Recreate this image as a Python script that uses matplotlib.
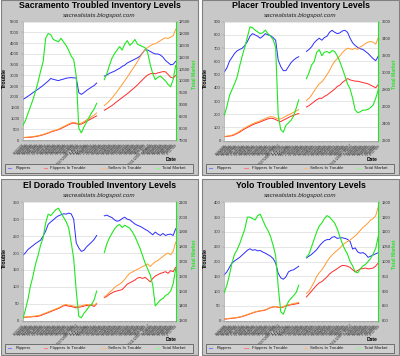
import matplotlib
matplotlib.use("Agg")
import matplotlib.pyplot as plt
import matplotlib.patches as patches
from matplotlib.lines import Line2D
import numpy as np
import pandas as pd

nan = np.nan
gap = [nan, nan]

# week labels on the category axis (61 slots, two empty slots in the middle)
week_labels = list(pd.date_range("2008-06-02", periods=61, freq="7D").strftime("%m/%d/%y"))
week_labels[21] = "10/27/2008 - 11/02"
week_labels[49] = "05/11/2009 - 05/17"

# ---- Sacramento ----
sac_flippers = [1880, 1950, 2030, 2110, 2200, 2280, 2360, 2450, 2540, 2640, 2740, 2860, 2820, 2790, 2760,
                2800, 2830, 2870, 2890, 2900, 2890, 2880, 2200, 2120, 2200, 2300, 2380, 2460, 2530, 2650] + gap + \
               [2970, 3020, 3100, 3150, 3200, 3270, 3330, 3420, 3480, 3580, 3640, 3700, 3760, 3820, 3900,
                4050, 4200, 4180, 4120, 4050, 4000, 4000, 3950, 3850, 3700, 3600, 3500, 3520, 3660]
sac_flip_trouble = [110, 115, 120, 130, 140, 160, 180, 210, 240, 280, 320, 370, 410, 440, 480,
                    530, 590, 650, 710, 760, 790, 760, 720, 740, 800, 870, 930, 990, 1060, 1120] + gap + \
                   [1380, 1450, 1530, 1600, 1700, 1790, 1880, 1970, 2060, 2150, 2250, 2350, 2450, 2560, 2680,
                    2800, 2920, 3020, 3080, 3100, 3080, 3120, 3150, 3180, 3170, 3050, 2920, 2880, 3000]
sac_sell_trouble = [120, 125, 135, 145, 160, 180, 200, 230, 260, 300, 340, 390, 430, 460, 500,
                    560, 620, 680, 740, 790, 820, 790, 760, 790, 850, 930, 1000, 1080, 1160, 1260] + gap + \
                   [1600, 1700, 1820, 1950, 2100, 2250, 2420, 2580, 2750, 2920, 3100, 3280, 3450, 3650, 3850,
                    4050, 4200, 4300, 4380, 4450, 4480, 4550, 4620, 4700, 4750, 4720, 4780, 4850, 5150]
sac_total = [8100, 8300, 8600, 8900, 9200, 9550, 9950, 10400, 10800, 11800, 12000, 11950, 11750, 11700, 11650,
             11800, 11650, 11500, 11300, 11050, 10900, 10200, 8000, 7800, 8050, 8250, 8450, 8650, 8800, 9050] + gap + \
            [10050, 10300, 10650, 10950, 11150, 11300, 11450, 11300, 11550, 11700, 11500, 11600, 11750, 11550, 11500,
             11450, 11400, 11200, 10700, 10300, 10050, 10150, 10200, 10100, 10000, 9850, 9750, 10050, 10650]

# ---- Placer ----
pla_flippers = [520, 550, 600, 630, 660, 680, 690, 700, 720, 750, 790, 810, 800, 790, 775,
                790, 810, 800, 795, 780, 760, 610, 560, 530, 530, 560, 590, 610, 625, 635] + gap + \
               [675, 690, 710, 740, 760, 775, 760, 780, 790, 820, 835, 820, 810, 815, 830,
                835, 820, 775, 740, 720, 705, 695, 690, 675, 660, 640, 620, 605, 640]
pla_flip_trouble = [30, 32, 35, 38, 45, 55, 65, 78, 90, 100, 110, 120, 128, 135, 142,
                    150, 158, 165, 170, 168, 160, 150, 145, 155, 165, 175, 185, 192, 200, 205] + gap + \
                   [255, 265, 280, 295, 310, 320, 320, 335, 345, 360, 375, 390, 410, 420, 440,
                    455, 470, 460, 455, 450, 450, 445, 440, 435, 430, 420, 410, 400, 425]
pla_sell_trouble = [32, 35, 38, 42, 50, 60, 72, 85, 97, 108, 118, 128, 136, 143, 150,
                    160, 168, 176, 182, 180, 172, 165, 165, 175, 185, 195, 205, 215, 225, 235] + gap + \
                   [305, 320, 345, 375, 405, 430, 445, 470, 500, 530, 570, 600, 620, 640, 665,
                    685, 700, 695, 690, 700, 690, 710, 720, 735, 745, 750, 745, 730, 780]
pla_total = [2500, 2600, 2730, 2800, 2870, 2950, 3080, 3200, 3300, 3420, 3540, 3530, 3500, 3480, 3460,
             3470, 3500, 3460, 3430, 3390, 3300, 2500, 2330, 2300, 2380, 2410, 2440, 2490, 2580, 2680] + gap + \
            [2930, 3000, 3090, 3130, 3240, 3270, 3200, 3240, 3250, 3230, 3260, 3250, 3200, 3130, 3050,
             2960, 2870, 2810, 2700, 2560, 2530, 2540, 2560, 2560, 2570, 2590, 2620, 2700, 2800]

# ---- El Dorado ----
eld_flippers = [193, 200, 210, 216, 222, 228, 233, 238, 250, 265, 285, 292, 298, 305, 310,
                313, 316, 315, 318, 316, 300, 230, 215, 205, 208, 218, 225, 232, 240, 252] + gap + \
               [310, 312, 308, 305, 298, 294, 296, 302, 306, 300, 298, 292, 286, 282, 279,
                275, 270, 266, 260, 254, 262, 256, 252, 258, 252, 255, 256, 252, 272]
eld_flip_trouble = [10, 10, 11, 11, 12, 12, 13, 15, 18, 21, 24, 27, 30, 33, 36,
                    40, 44, 45, 43, 42, 40, 38, 40, 41, 43, 45, 44, 46, 42, 50] + gap + \
                   [68, 72, 78, 82, 86, 88, 90, 92, 100, 108, 112, 116, 120, 126, 128,
                    125, 128, 122, 115, 125, 132, 136, 140, 142, 145, 140, 148, 145, 158]
eld_sell_trouble = [11, 11, 12, 12, 13, 14, 15, 17, 20, 23, 26, 29, 32, 35, 38,
                    42, 46, 48, 46, 45, 43, 42, 43, 44, 46, 48, 47, 49, 45, 52] + gap + \
                   [70, 76, 84, 90, 98, 104, 108, 114, 122, 132, 140, 144, 148, 152, 156,
                    160, 164, 168, 160, 168, 174, 178, 184, 190, 196, 200, 195, 205, 232]
eld_total = [1310, 1370, 1440, 1530, 1600, 1680, 1740, 1810, 1860, 1960, 2020, 2010, 2030, 2050, 2060,
             2030, 2000, 1970, 1930, 1830, 1720, 1500, 1330, 1320, 1350, 1370, 1395, 1410, 1440, 1500] + gap + \
            [1760, 1820, 1860, 1890, 1920, 1940, 1950, 1930, 1945, 1935, 1925, 1900, 1870, 1830, 1790,
             1740, 1690, 1650, 1610, 1540, 1400, 1420, 1440, 1450, 1470, 1480, 1500, 1550, 1650]

# ---- Yolo ----
yol_flippers = [155, 165, 180, 195, 202, 208, 214, 222, 230, 238, 243, 238, 240, 236, 237,
                232, 228, 223, 218, 210, 195, 160, 145, 140, 148, 165, 170, 172, 178, 184] + gap + \
               [212, 218, 224, 232, 240, 252, 262, 270, 274, 274, 282, 284, 278, 280, 280,
                278, 275, 268, 242, 246, 232, 228, 230, 225, 214, 218, 222, 226, 230]
yol_flip_trouble = [5, 6, 7, 8, 9, 10, 12, 14, 17, 20, 23, 26, 29, 31, 33,
                    34, 36, 40, 44, 46, 47, 45, 44, 46, 50, 52, 54, 55, 57, 58] + gap + \
                   [80, 90, 100, 110, 120, 128, 132, 140, 148, 158, 165, 170, 176, 182, 187,
                    186, 184, 180, 172, 165, 170, 175, 176, 178, 175, 176, 178, 185, 195]
yol_sell_trouble = [6, 7, 8, 9, 10, 11, 13, 15, 18, 21, 24, 27, 30, 32, 34,
                    35, 37, 41, 45, 47, 48, 46, 45, 47, 52, 54, 56, 58, 60, 62] + gap + \
                   [92, 100, 115, 130, 150, 162, 172, 185, 200, 212, 222, 230, 238, 245, 255,
                    262, 268, 272, 280, 286, 295, 305, 315, 322, 330, 340, 345, 355, 385]
yol_total = [895, 920, 955, 995, 1025, 1040, 1060, 1085, 1110, 1150, 1150, 1145, 1140, 1155, 1160,
             1140, 1120, 1105, 1085, 1055, 1020, 915, 830, 822, 845, 865, 875, 885, 895, 920] + gap + \
            [1015, 1025, 1050, 1075, 1100, 1120, 1130, 1145, 1155, 1150, 1140, 1130, 1110, 1085, 1060,
             1040, 1025, 1000, 985, 965, 962, 975, 985, 990, 1000, 1010, 1025, 1045, 1085]

series_names = ["Flippers", "Flippers In Trouble", "Sellers In Trouble", "Total Market"]
line_colors = ["#2b2bff", "#ff2a2a", "#ff9a30", "#1ee81e"]
legend_colors = ["#8080ff", "#ff8080", "#ffbb80", "#80ff80"]

W, H = 400, 356
fig = plt.figure(figsize=(W / 100, H / 100), dpi=100)
fig.patch.set_facecolor("white")


def frac(x, y, w, h):
    # pixel box (top-left origin) -> figure fraction rect
    return [x / W, 1 - (y + h) / H, w / W, h / H]


panels = [
    ("Sacramento", (0.5, 0.5), 0, (22.7, 21.7, 153, 118.3), 5500, 500, (7500, 12500), 500,
     sac_flippers, sac_flip_trouble, sac_sell_trouble, sac_total),
    ("Placer", (201.5, 0.5), 0, (224.3, 21.7, 154, 119), 900, 100, (2200, 3600), 200,
     pla_flippers, pla_flip_trouble, pla_sell_trouble, pla_total),
    ("El Dorado", (0.5, 178.5), 2, (22.7, 202.3, 153, 118.4), 350, 50, (1300, 2100), 100,
     eld_flippers, eld_flip_trouble, eld_sell_trouble, eld_total),
    ("Yolo", (201.5, 178.5), 2, (224.3, 202.3, 154, 118.4), 400, 50, (800, 1200), 50,
     yol_flippers, yol_flip_trouble, yol_sell_trouble, yol_total),
]

x = np.arange(len(week_labels))

for (name, (bx, by), dy, plot, lmax, lstep, rlim, rstep, flp, flt, slt, tot) in panels:
    # panel background, kept behind the axes
    fig.add_artist(patches.Rectangle((bx / W, 1 - (by + 175 + dy * 0.5) / H), 197 / W, (175 + dy * 0.5) / H,
                                     transform=fig.transFigure, facecolor="#c8c8c8",
                                     edgecolor="#808080", linewidth=0.8, zorder=-10))
    cx = (bx + 99) / W
    fig.text(cx, 1 - (by + 5.5 + dy * 0.6) / H, f"{name} Troubled Inventory Levels",
             ha="center", va="center", fontsize=6.3, fontweight="bold", family="Liberation Sans")
    fig.text(cx, 1 - (by + 15.5 + dy) / H, "sacrealstats.blogspot.com",
             ha="center", va="center", fontsize=4.5, style="italic", family="Liberation Sans",
             color="#202020")

    ax = fig.add_axes(frac(*plot))
    ax.set_facecolor("white")
    ax.plot(x, flp, color=line_colors[0], lw=0.7)
    ax.plot(x, flt, color=line_colors[1], lw=0.7)
    ax.plot(x, slt, color=line_colors[2], lw=0.7)
    ax.set_xlim(0, 60)
    ax.set_ylim(0, lmax)
    ax.set_yticks(np.arange(0, lmax + 1, lstep))
    ax.yaxis.grid(True, color="#dcdcdc", lw=0.5)
    ax.set_axisbelow(True)
    ax.set_xticks(x)
    ax.set_xticklabels(week_labels, rotation=45, ha="right", rotation_mode="anchor",
                       fontsize=2.6, color="#2a2a2a", family="Liberation Sans")
    ax.tick_params(axis="x", length=1.5, width=0.3, pad=0.8, color="#909090")
    ax.tick_params(axis="y", labelsize=3, length=1.5, width=0.3, pad=1, color="#909090",
                   labelcolor="#303030")
    ax.spines["top"].set_visible(False)
    ax.spines["right"].set_visible(False)
    ax.spines["left"].set_color("#a0a0a0")
    ax.spines["left"].set_linewidth(0.5)
    ax.spines["bottom"].set_color("#a0a0a0")
    ax.spines["bottom"].set_linewidth(0.5)

    ax2 = ax.twinx()
    ax2.plot(x, tot, color=line_colors[3], lw=0.8)
    ax2.set_ylim(*rlim)
    ax2.set_yticks(np.arange(rlim[0], rlim[1] + 1, rstep))
    ax2.tick_params(axis="y", labelsize=3, length=1.5, width=0.3, pad=1, color="#1ee81e",
                    labelcolor="#303030")
    for s in ["top", "left", "bottom"]:
        ax2.spines[s].set_visible(False)
    ax2.spines["right"].set_color("#1ee81e")
    ax2.spines["right"].set_linewidth(0.8)
    for lbl in ax.get_yticklabels() + ax2.get_yticklabels():
        lbl.set_family("Liberation Sans")

    # axis titles
    fig.text((bx + 4) / W, 1 - (by + 77 + dy) / H, "Trouble", rotation=90, ha="center", va="center",
             fontsize=4, fontweight="bold", family="Liberation Sans")
    fig.text((bx + 193.5) / W, 1 - (by + 74 + dy) / H, "Total Market", rotation=90, ha="center",
             va="center", fontsize=3.6, fontweight="bold", color="#1ee81e", family="Liberation Sans")
    fig.text((bx + 171) / W, 1 - (by + 159 + dy) / H, "Date", ha="center", va="center",
             fontsize=3.6, fontweight="bold", family="Liberation Sans")

    # legend box
    ly = by + 163 + dy
    fig.add_artist(patches.Rectangle(((bx + 4.5) / W, 1 - (ly + 9) / H), 188 / W, 9 / H,
                                     transform=fig.transFigure, facecolor="#d0d0d0",
                                     edgecolor="#606060", linewidth=0.6))
    for k, (mx, tx) in enumerate([(7, 15), (43, 50), (102, 108), (155, 162)]):
        yy = 1 - (ly + 4.5) / H
        fig.add_artist(Line2D([(bx + mx) / W, (bx + mx + 3.5) / W], [yy, yy],
                              transform=fig.transFigure, color=legend_colors[k], lw=0.8))
        fig.text((bx + tx) / W, yy, series_names[k], ha="left", va="center", fontsize=3.2,
                 color="#202020", family="Liberation Sans")

fig.savefig("out.png", dpi=100, facecolor=fig.get_facecolor())
